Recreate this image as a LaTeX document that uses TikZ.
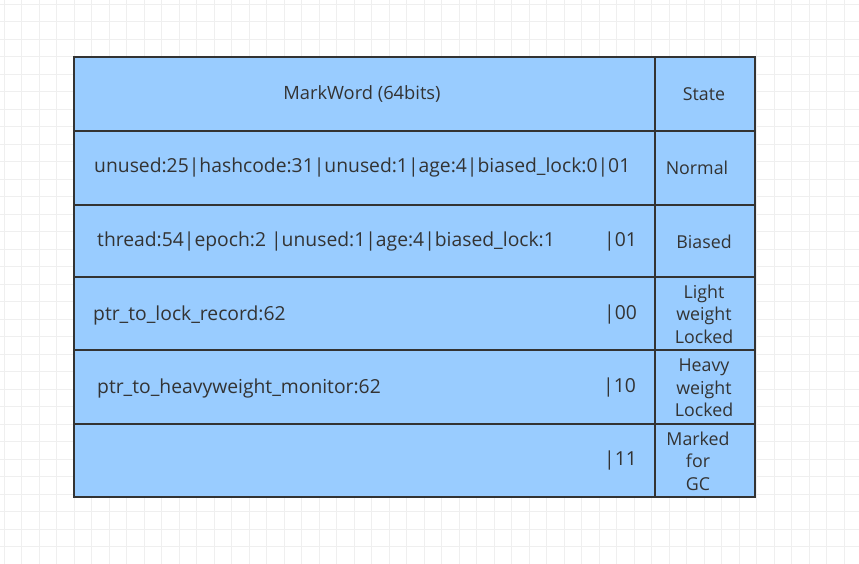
\documentclass[tikz,border=0pt]{standalone}
\usepackage{fontspec}
\setmainfont{Open Sans}
\definecolor{cellblue}{HTML}{99CCFF}
\definecolor{txt}{HTML}{333333}
\definecolor{gridc}{HTML}{EFEFEF}
\begin{document}
\begin{tikzpicture}[x=1pt,y=-1pt,
  cell/.style={draw=black!80,line width=1.6pt,fill=cellblue},
  lt/.style={anchor=west,text=txt,font=\fontsize{19.3}{22}\selectfont,inner sep=0pt},
  st/.style={align=center,text=txt,font=\fontsize{17.8}{22.5}\selectfont,inner sep=0pt}]
\useasboundingbox (0,0) rectangle (859,564);
\fill[white] (0,0) rectangle (859,564);
\foreach \i in {0,...,49} {
  \pgfmathsetmacro\p{4+17.5*\i}
  \draw[gridc,line width=0.8pt] (\p,0) -- (\p,564);
  \draw[gridc,line width=0.8pt] (0,\p) -- (859,\p);
}
\foreach \a/\b in {57/131,131/205,205/277,277/350,350/424,424/497} {
  \draw[cell] (74,\a) rectangle (655,\b);
  \draw[cell] (655,\a) rectangle (755,\b);
}
\node[text=txt,font=\fontsize{18.3}{22}\selectfont] (h1) at (362,94) {MarkWord (64bits)};
\node[st] (h2) at (704,94) {State};
\node[lt] (r1) at (94,168) {unused:25|hashcode:31|unused:1|age:4|biased\_lock:0|01};
\node[st] (s1) at (697,168) {Normal};
\node[lt] (r2) at (97,242) {thread:54|epoch:2 |unused:1|age:4|biased\_lock:1};
\node[lt] (e2) at (604,242) {|01};
\node[st] (s2) at (704,242) {Biased};
\node[lt] (r3) at (93,315) {ptr\_to\_lock\_record:62};
\node[lt] (e3) at (604,315) {|00};
\node[st] (s3) at (704,314) {Light\\weight\\Locked};
\node[lt] (r4) at (97,388) {ptr\_to\_heavyweight\_monitor:62};
\node[lt] (e4) at (603,388) {|10};
\node[st] (s4) at (704,388) {Heavy\\weight\\Locked};
\node[lt] (e5) at (604,461) {|11};
\node[st] (s5) at (698,461) {Marked\\for\\GC};
\end{tikzpicture}
\end{document}
